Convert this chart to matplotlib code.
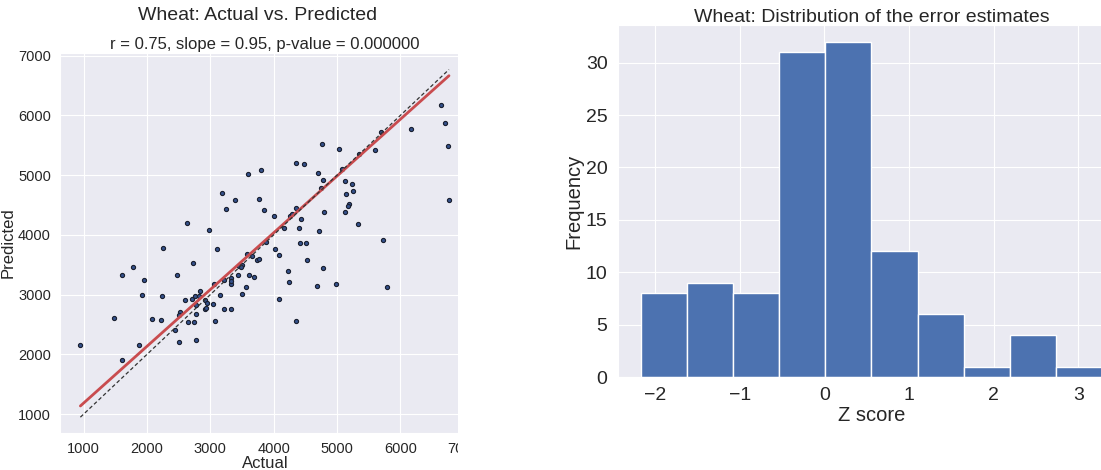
import matplotlib
matplotlib.use('Agg')
import matplotlib.pyplot as plt
import numpy as np
import seaborn as sns
from matplotlib.patches import Rectangle

# wheat yield, observed vs. model output
actual = [947, 1484, 1610, 1610, 1784, 1874, 1921, 1947, 2079, 2221,
          2232, 2258, 2442, 2468, 2500, 2526, 2505, 2595, 2632, 2647,
          2721, 2716, 2747, 2774, 2774, 2758, 2779, 2832, 2821, 2921,
          2926, 2916, 2953, 2979, 3047, 3063, 3079, 3100, 3147, 3221,
          3210, 3247, 3326, 3321, 3321, 3331, 3437, 3453, 3500, 3505,
          3558, 3584, 3605, 3653, 3684, 3737, 3768, 3847, 3874, 4005,
          4016, 4084, 4089, 4158, 4221, 4237, 4358, 4358, 4400, 4421,
          4437, 4505, 4521, 4721, 4779, 4684, 4795, 4989, 5121, 5184,
          5337, 5721, 5795, 6768, 3184, 3389, 3600, 3768, 3805, 4358,
          4479, 4705, 4758, 4779, 5037, 5121, 5137, 5179, 5232, 5247,
          5605, 6168, 6647, 6705, 6752, 4741, 5074, 5698, 5349, 4257,
          4290, 3480]
predicted = [2160, 2610, 1901, 3336, 3455, 2149, 2987, 3241, 2593, 2582,
             2976, 3787, 2413, 3320, 2210, 2700, 2655, 2903, 4192, 2537,
             3522, 2920, 2537, 2239, 2678, 2982, 2818, 3066, 2976, 2751,
             2779, 2903, 2858, 4080, 2847, 3184, 2554, 3764, 2999, 2751,
             3252, 4440, 3275, 3179, 2751, 3229, 3336, 3477, 3494, 3004,
             3123, 3685, 3336, 3646, 3286, 3584, 3601, 4423, 3888, 4310,
             3759, 3663, 2931, 4108, 3393, 3218, 4446, 2554, 4113, 3866,
             4271, 3871, 3573, 4063, 3449, 3145, 4378, 3173, 4378, 4524,
             4187, 3922, 3134, 4581, 4708, 4590, 5011, 4595, 5084, 5197,
             5180, 5028, 5517, 4921, 5438, 4910, 4691, 4489, 4848, 4736,
             5421, 5775, 6174, 5876, 5489, 4792, 5096, 5719, 5360, 4310,
             4345, 3460]

# linear fit of predicted on actual
r_value = 0.75
slope = 0.95
intercept = 235
p_value = 0.0

# histogram of the standardised errors
z_edges = [-2.165, -1.6205, -1.076, -0.5315, 0.013, 0.5575,
           1.102, 1.6465, 2.191, 2.7355, 3.28]
z_counts = [8, 9, 8, 31, 32, 12, 6, 1, 4, 1]

sns.set_style('darkgrid')
plt.rcParams['font.family'] = ['Liberation Sans', 'DejaVu Sans']
plt.rcParams['text.color'] = '.15'
plt.rcParams['axes.labelcolor'] = '.15'
plt.rcParams['xtick.color'] = '.15'
plt.rcParams['ytick.color'] = '.15'

W, H = 1101, 470
fig = plt.figure(figsize=(W / 100, H / 100), dpi=100)

# --- left: actual vs predicted ---
ax1 = fig.add_axes([60 / W, (H - 433) / H, 410 / W, 380 / H])
ax1.scatter(actual, predicted, s=9, facecolor='#34508a',
            edgecolor='#1a2030', linewidth=0.8, zorder=3)
x_line = np.array([min(actual), max(actual)])
ax1.plot(x_line, slope * x_line + intercept, color='#C94C4F', lw=2.0, zorder=4)
ax1.plot(x_line, x_line, color='#333333', lw=0.9, linestyle=(0, (3, 2)), zorder=5)
ax1.set_xlim(625, 7100)
ax1.set_ylim(682, 7045)
ax1.set_xticks(range(1000, 8000, 1000))
ax1.set_yticks(range(1000, 8000, 1000))
ax1.tick_params(labelsize=10.5, pad=3)
ax1.set_xlabel('Actual', fontsize=12, labelpad=0)
ax1.set_ylabel('Predicted', fontsize=12, labelpad=1.5)
ax1.set_title('r = %.2f, slope = %.2f, p-value = %.6f' % (r_value, slope, p_value),
              fontsize=12, pad=3)
fig.text(258 / W, 1 - 15 / H, 'Wheat: Actual vs. Predicted',
         ha='center', va='center', fontsize=14)

# blank strip between the two panels
fig.add_artist(Rectangle((458 / W, 0), 96 / W, 1, transform=fig.transFigure,
                         facecolor='white', edgecolor='none', zorder=10))

# --- right: error distribution ---
ax2 = fig.add_axes([618 / W, (H - 377) / H, 507 / W, 352 / H])
ax2.hist(z_edges[:-1], bins=z_edges, weights=z_counts,
         color='#4C72B0', edgecolor='white', linewidth=1)
ax2.tick_params(labelsize=14, pad=4)
ax2.set_xlabel('Z score', fontsize=14.5, labelpad=1)
ax2.set_ylabel('Frequency', fontsize=14.5, labelpad=2)
ax2.set_title('Wheat: Distribution of the error estimates', fontsize=14, pad=2)

fig.savefig('out.png', dpi=100)
